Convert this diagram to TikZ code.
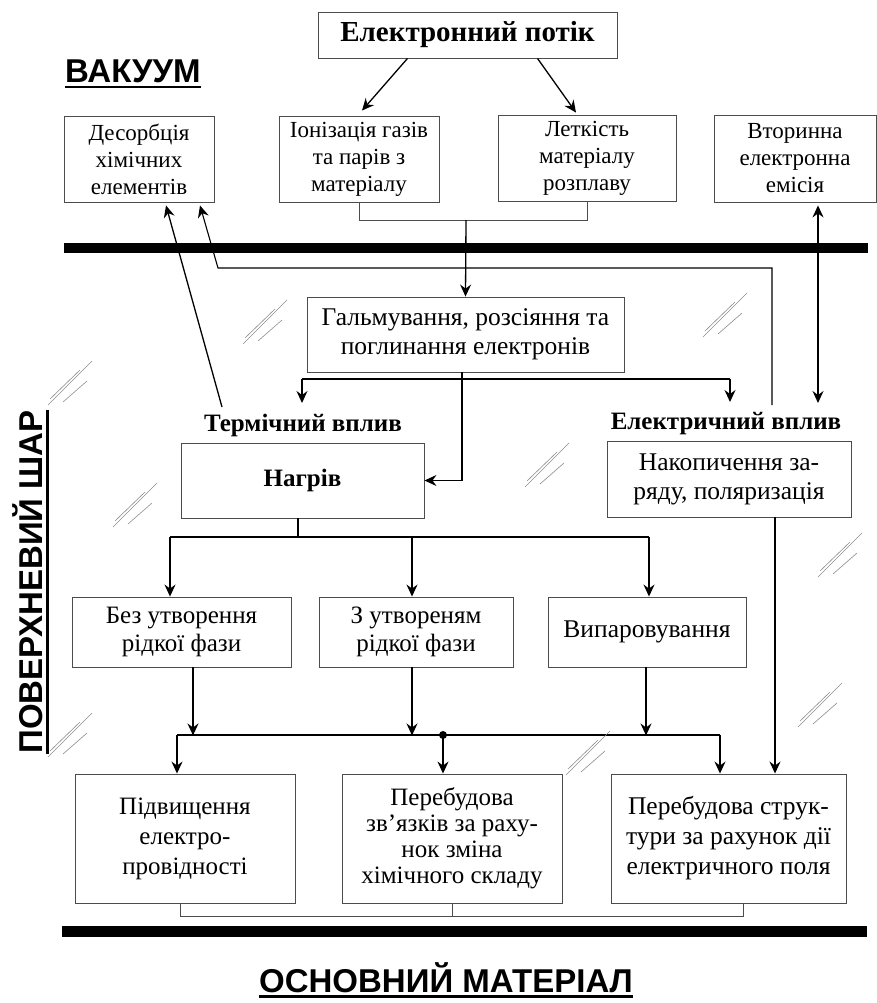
\documentclass[tikz,border=0pt]{standalone}
\usepackage{fontspec}
\setmainfont{Liberation Serif}
\setsansfont{Liberation Sans}
\usetikzlibrary{positioning, calc, arrows.meta}

\tikzset{
  box/.style={draw=black!70, line width=0.9pt, align=center, inner sep=0pt, font=\fontsize{23}{27}\selectfont},
  lbl/.style={inner sep=0pt, font=\bfseries\fontsize{25}{30}\selectfont},
  zone/.style={inner sep=0pt, font=\sffamily\bfseries\fontsize{33}{38}\selectfont},
  wire/.style={line width=1.3pt},
  fine/.style={draw=black!70, line width=0.9pt},
  bar/.style={line width=10.5pt},
  uline/.style={line width=2.6pt},
  hatch/.style={draw=black!45, line width=0.6pt},
  >={Stealth[length=12pt, width=11pt, inset=4pt]}
}

\begin{document}
\begin{tikzpicture}[x=1pt, y=-1pt]
	\useasboundingbox (0,0) rectangle (877,1003);
	% vacuum side
	\node (flow) [box, minimum width=299pt, minimum height=46pt, font=\bfseries\fontsize{29}{33}\selectfont] at (467.5,35) {Електронний потік};
	\node (vac) [zone] at (133,71) {ВАКУУМ};
	\draw [uline] ([yshift=-5pt]vac.base west) -- ([yshift=-5pt]vac.base east);
	\node (desorb) [box, minimum width=150pt, minimum height=86pt] at (139,159) {Десорбція\\хімічних\\елементів};
	\node (ioniz) [box, minimum width=160pt, minimum height=86pt] at (359,159) {Іонізація газів\\та парів з\\матеріалу};
	\node (volat) [box, minimum width=178pt, minimum height=86pt] at (587,158) {Леткість\\матеріалу\\розплаву};
	\node (second) [box, minimum width=162pt, minimum height=87pt] at (795,158.5) {Вторинна\\електронна\\емісія};
	\draw [->, wire] ($(flow.south)+(-60,0)$) -- ($(ioniz.north)+(3,-5)$);
	\draw [->, wire] ($(flow.south)+(70,0)$) -- ($(volat.north)+(-11,-2)$);
	\draw [fine] (ioniz.south) -- ++(0,18) -| (volat.south);
	\coordinate (join) at (466,220);

	% layer borders
	\draw [bar] (64,248) -- (868,248);
	\draw [bar] (62,931.5) -- (867,931.5);

	% surface layer
	\node (surf) [zone, rotate=90] at (28,582) {ПОВЕРХНЕВИЙ ШАР};
	\draw [uline] ([xshift=5pt]surf.base west) -- ([xshift=5pt]surf.base east);
	\node (brake) [box, minimum width=317pt, minimum height=75pt, font=\fontsize{25.5}{29}\selectfont] at (465.5,334.5) {Гальмування, розсіяння та\\поглинання електронів};
	\draw [->, wire] (join) -- (brake.north);
	\node (thermal) [lbl] at (303,425) {Термічний вплив};
	\node (elec) [lbl] at (726,424) {Електричний вплив};
	\node (heat) [box, minimum width=243pt, minimum height=75pt, font=\bfseries\fontsize{25}{29}\selectfont] at (302.5,480.5) {Нагрів};
	\node (charge) [box, minimum width=244pt, minimum height=76pt, font=\fontsize{25.5}{29}\selectfont] at (729,479) {Накопичення за-\\ряду, поляризація};

	\coordinate (splitL) at (302,379);
	\coordinate (splitR) at (730,379);
	\draw [wire] (splitL) -- (splitR);
	\draw [->, wire] (splitL) -- ++(0,24);
	\draw [->, wire] (splitR) -- ++(0,23);
	\draw [->, wire] ($(brake.south)+(-3.5,0)$) |- (heat.east);

	\coordinate (tA) at (222,407);
	\coordinate (eA) at (772,405);
	\coordinate (eB) at (818,403);
	\draw [->, wire] (tA) -- ($(desorb.south)+(27,3)$);
	\draw [->, line width=1.1pt] (eA) -- (772,268) -- (218,268) -- ($(desorb.south)+(61,3)$);
	\draw [<->, wire] ($(second.south)+(23,3)$) -- (eB);

	% melting branches
	\draw [wire] ($(heat.south)+(-4.5,0)$) -- ++(0,19);
	\coordinate (lf) at (170,537);
	\coordinate (mf) at (412,537);
	\coordinate (rf) at (649,537);
	\node (nomelt) [box, minimum width=219pt, minimum height=70pt, font=\fontsize{25}{28}\selectfont] at (181.5,632) {Без утворення\\рідкої фази};
	\node (melt) [box, minimum width=194pt, minimum height=70pt, font=\fontsize{25}{28}\selectfont] at (416,632) {З утвореням\\рідкої фази};
	\node (evap) [box, minimum width=198pt, minimum height=70pt, font=\fontsize{25.5}{28}\selectfont] at (647,632) {Випаровування};
	\draw [wire] (lf) -- (rf);
	\draw [->, wire] (lf) -- (nomelt.north -| lf);
	\draw [->, wire] (mf) -- (melt.north -| mf);
	\draw [->, wire] (rf) -- (evap.north -| rf);

	% results
	\node (cond) [box, minimum width=220pt, minimum height=129pt, font=\fontsize{25}{30}\selectfont] at (185,838.5) {Підвищення\\електро-\\провідності};
	\node (bonds) [box, minimum width=220pt, minimum height=129pt, font=\fontsize{25}{26}\selectfont] at (452,838.5) {Перебудова\\зв’язків за раху-\\нок зміна\\хімічного складу};
	\node (struct) [box, minimum width=235pt, minimum height=129pt, font=\fontsize{25.5}{30}\selectfont] at (728.5,838.5) {Перебудова струк-\\тури за рахунок дії\\електричного поля};
	\coordinate (ml) at (177,735);
	\coordinate (md) at (443,735);
	\coordinate (mr) at (720,735);
	\draw [->, wire] ($(nomelt.south)+(11.5,0)$) -- ++(0,68);
	\draw [->, wire] ($(melt.south)+(-4,0)$) -- ++(0,68);
	\draw [->, wire] ($(evap.south)+(-1,0)$) -- ++(0,68);
	\draw [wire] (ml) -- (mr);
	\draw [->, wire] (ml) -- (cond.north -| ml);
	\draw [->, wire] (md) -- (bonds.north -| md);
	\draw [->, wire] (mr) -- (struct.north -| mr);
	\fill (md) circle (4pt);
	\draw [->, wire] ($(charge.south)+(46,0)$) -- ($(struct.north)+(46.5,0)$);
	\draw [fine] ($(cond.south)+(-5,0)$) -- ++(0,13) -| ($(struct.south)+(14.5,0)$);
	\draw [fine] (bonds.south) -- ++(0,13);

	% base material
	\node (base) [zone] at (446,978) {ОСНОВНИЙ МАТЕРІАЛ};
	\draw [uline] ([yshift=-4pt]base.base west) -- ([yshift=-4pt]base.base east);

	% glass marks
	\foreach \hx/\hy in {70/383, 135/505, 70/735, 265/322, 725/315, 547/465, 840/555, 820/705, 588/753} {
		\draw [hatch, shift={(\hx,\hy)}] (-22,22) -- (22,-22) (-20,16) -- (10,-13) (-7,19) -- (17,-2);
	}
\end{tikzpicture}
\end{document}
